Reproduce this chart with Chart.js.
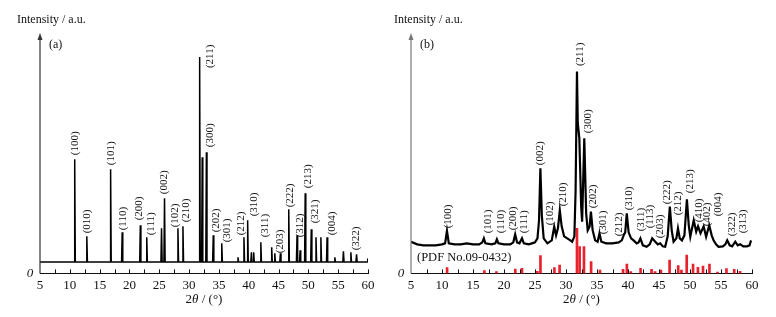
<!DOCTYPE html>
<html>
<head>
<meta charset="utf-8">
<script src="https://cdn.jsdelivr.net/npm/chart.js@4.4.1/dist/chart.umd.min.js"></script>
<style>
  html, body { margin: 0; padding: 0; background: #fff; }
  #wrap { position: relative; width: 776px; height: 317px; }
  canvas { position: absolute; top: 0; }
</style>
</head>
<body>
<div id="wrap">
  <canvas id="xrd-a" width="390" height="317" style="left:0"></canvas>
  <canvas id="xrd-b" width="386" height="317" style="left:390px"></canvas>
</div>
<script>
// 2theta axis ticks
const xTicks = [5, 10, 15, 20, 25, 30, 35, 40, 45, 50, 55, 60];

// (a) simulated pattern: peak positions (deg) and heights (a.u.)
const simBase = 11.5;
const simPeakPos = [10.82, 12.85, 16.84, 18.78, 21.82, 22.90, 25.38, 25.88, 28.13, 28.97,
  31.77, 32.20, 32.90, 34.05, 35.48, 38.20, 39.20, 39.82, 40.45, 40.83, 42.03, 43.85, 44.37,
  45.31, 46.71, 48.10, 48.62, 49.47, 50.49, 51.28, 52.10, 53.14, 54.44, 55.88, 57.13, 58.08, 59.95];
const simPeakInt = [114, 37, 104, 41, 48, 36, 45, 75, 45, 47,
  216, 116, 121, 38, 30, 16, 36, 53, 21, 21, 31, 26, 20,
  20, 64, 38, 23, 80, 44, 36, 36, 36, 16, 22, 21, 19, 15];

const obsX = [5.0, 6.0, 7.0, 8.0, 9.0, 10.0, 10.5, 10.8, 11.1, 12.0, 13.0, 14.0, 15.0, 16.0, 16.5,
  16.75, 17.0, 18.0, 18.6, 18.85, 19.1, 20.0, 21.0, 21.5, 21.8, 22.1, 22.5, 22.9, 23.2, 24.0, 24.5,
  25.0, 25.4, 25.65, 25.87, 26.1, 26.4, 27.0, 27.7, 28.1, 28.4, 28.7, 29.0, 29.3, 29.7, 30.2, 30.7,
  31.0, 31.35, 31.55, 31.77, 31.9, 32.15, 32.45, 32.6, 32.95, 33.25, 33.5, 33.8, 34.02, 34.3, 34.7,
  35.1, 35.4, 35.7, 36.5, 37.5, 38.5, 39.0, 39.3, 39.55, 39.8, 40.1, 40.5, 40.9, 41.4, 41.7, 42.0,
  42.4, 43.0, 43.5, 43.9, 44.4, 44.8, 45.2, 45.6, 46.0, 46.4, 46.75, 47.05, 47.35, 47.8, 48.06, 48.35,
  48.7, 49.1, 49.5, 49.8, 50.05, 50.6, 51.0, 51.3, 51.7, 52.2, 52.6, 53.1, 53.5, 53.8, 54.2, 54.6,
  55.3, 55.7, 56.0, 56.4, 56.8, 57.3, 57.7, 58.1, 58.6, 59.2, 59.6, 59.85];
const obsY = [31.6, 29, 28, 28, 28, 29, 30, 42.6, 30, 29, 29, 30, 29, 29, 31,
  35, 30, 29, 30, 34, 30, 29, 29, 31, 39, 31, 30, 35, 30, 29, 30,
  31, 35, 53, 105, 58, 35, 30, 33, 46.6, 38, 45, 63, 47, 37, 35, 33,
  31.6, 37, 83, 201.6, 150, 135, 66.6, 51.6, 135, 60, 43, 46.6, 61.6, 43, 33,
  31.6, 40, 31.6, 30, 30, 31, 33, 38, 41, 60, 41, 35, 33, 30, 31, 35,
  28, 26.6, 29, 35, 31.6, 29, 30, 27, 26.6, 37, 66.6, 43, 31.6, 35, 45, 35,
  33, 38, 74, 48, 36.6, 53, 41.6, 47, 40, 47, 36.6, 48, 38, 33, 29, 26.6,
  27, 29, 33, 28, 27, 31.6, 28, 29, 27, 27, 28, 33];

// (b) reference sticks, PDF No.09-0432
const pdfPos = [10.82, 16.84, 18.78, 21.82, 22.90, 25.38, 25.88, 28.13, 28.97, 31.77, 32.20, 32.90,
  34.05, 35.48, 39.20, 39.82, 40.45, 42.03, 43.80, 44.37, 45.31, 46.71, 48.10, 48.62, 49.47, 50.49,
  51.28, 52.10, 53.14, 54.44, 55.88, 57.13, 58.08];
const pdfInt = [5.7, 2.7, 1.7, 4.3, 5, 2, 17.7, 5.7, 8.3, 45, 26.7, 26.7,
  11.7, 3.3, 4, 9.3, 1.7, 5, 4, 1.7, 3.3, 13.3, 7.7, 3.3, 18.3, 9.3,
  6, 7.3, 9.3, 1.3, 4.7, 4, 2];

// hkl annotations: [text, 2theta, intensity where the text starts]
const hklA = [['(100)', 10.83, 118], ['(010)', 12.9, 40], ['(101)', 16.87, 108], ['(110)', 18.9, 43],
  ['(200)', 21.7, 53], ['(111)', 23.6, 38], ['(002)', 25.8, 79], ['(102)', 27.6, 46], ['(210)', 29.55, 51],
  ['(211)', 33.55, 205], ['(300)', 33.55, 126], ['(202)', 34.46, 41], ['(301)', 36.36, 31], ['(212)', 38.77, 38],
  ['(310)', 40.83, 57], ['(311)', 42.67, 36], ['(203)', 45.19, 20], ['(222)', 46.87, 66], ['(312)', 48.66, 36],
  ['(213)', 49.93, 85], ['(321)', 51.2, 50], ['(004)', 54.0, 38], ['(322)', 58.0, 23]];
const hklB = [['(100)', 10.97, 45], ['(101)', 17.5, 40], ['(110)', 19.5, 40], ['(200)', 21.4, 43],
  ['(111)', 23.3, 40], ['(002)', 25.85, 108], ['(102)', 27.5, 48], ['(210)', 29.5, 67], ['(211)', 32.3, 207],
  ['(300)', 33.5, 140], ['(202)', 34.45, 65], ['(301)', 35.97, 39], ['(212)', 38.6, 37], ['(310)', 40.2, 63],
  ['(311)', 42.1, 42], ['(113)', 43.55, 45], ['(203)', 45.2, 35], ['(222)', 46.35, 69], ['(212)', 48.16, 58],
  ['(213)', 50.05, 80], ['(410)', 51.4, 51], ['(402)', 52.84, 47], ['(004)', 54.5, 57], ['(322)', 56.77, 37],
  ['(313)', 58.55, 40]];

const SERIF = '"Liberation Serif", "DejaVu Serif", serif';

// spike profile for the simulated pattern, built from the peak lists
const simData = [{x: 5, y: simBase}];
simPeakPos.forEach((p, i) => {
  simData.push({x: p - 0.1, y: simBase}, {x: p, y: simPeakInt[i]}, {x: p + 0.1, y: simBase});
});
simData.push({x: 60, y: simBase});

const obsData = obsX.map((x, i) => ({x: x, y: obsY[i]}));
const pdfData = pdfPos.map((x, i) => ({x: x, y: pdfInt[i]}));

function decor(o) {
  return {
    id: 'decor',
    afterDraw(chart) {
      const ctx = chart.ctx;
      const xs = chart.scales.x, ys = chart.scales.y;
      const x0 = xs.getPixelForValue(5);
      const yb = ys.getPixelForValue(0);
      ctx.save();
      // y axis with arrow
      ctx.strokeStyle = o.axisColor;
      ctx.fillStyle = o.axisColor;
      ctx.lineWidth = 1.2;
      ctx.beginPath();
      ctx.moveTo(x0, yb);
      ctx.lineTo(x0, chart.chartArea.top + 4);
      ctx.stroke();
      ctx.beginPath();
      ctx.moveTo(x0, chart.chartArea.top);
      ctx.lineTo(x0 - 2.5, chart.chartArea.top + 7);
      ctx.lineTo(x0 + 2.5, chart.chartArea.top + 7);
      ctx.closePath();
      ctx.fill();
      // inward ticks every 2.5 deg
      ctx.strokeStyle = '#111';
      ctx.lineWidth = 1;
      for (let v = 7.5; v <= 60; v += 2.5) {
        const px = Math.round(xs.getPixelForValue(v)) + 0.5;
        ctx.beginPath();
        ctx.moveTo(px, yb);
        ctx.lineTo(px, yb - 4);
        ctx.stroke();
      }
      // hkl labels
      ctx.fillStyle = '#111';
      ctx.font = '11px ' + SERIF;
      ctx.textAlign = 'left';
      ctx.textBaseline = 'middle';
      o.hkl.forEach(h => {
        ctx.save();
        ctx.translate(xs.getPixelForValue(h[1]), ys.getPixelForValue(h[2]));
        ctx.rotate(-Math.PI / 2);
        ctx.fillText(h[0], 0, 0);
        ctx.restore();
      });
      // zero mark
      ctx.font = 'italic 13px ' + SERIF;
      ctx.textAlign = 'center';
      ctx.fillText('0', x0 - 10, yb);
      // panel tag and y title
      ctx.font = '12px ' + SERIF;
      ctx.textAlign = 'left';
      ctx.fillText(o.tag, x0 + 9, 45);
      ctx.fillText('Intensity / a.u.', o.yTitleX, 20);
      if (o.note) {
        ctx.font = '12.5px ' + SERIF;
        ctx.fillText(o.note, x0 + 6, 258);
      }
      // x title: 2θ / (°)
      ctx.font = '13px ' + SERIF;
      const a = '2', c = ' / (°)';
      const wa = ctx.measureText(a).width, wc = ctx.measureText(c).width;
      ctx.font = 'italic 13px ' + SERIF;
      const wb = ctx.measureText('θ').width;
      let tx = (chart.chartArea.left + chart.chartArea.right) / 2 - (wa + wb + wc) / 2;
      const ty = 300;
      ctx.font = '13px ' + SERIF;
      ctx.fillText(a, tx, ty);
      ctx.font = 'italic 13px ' + SERIF;
      ctx.fillText('θ', tx + wa, ty);
      ctx.font = '13px ' + SERIF;
      ctx.fillText(c, tx + wa + wb, ty);
      ctx.restore();
    }
  };
}

function baseOptions(padLeft, padRight) {
  return {
    responsive: false,
    animation: false,
    devicePixelRatio: 1,
    layout: { padding: { left: padLeft, right: padRight, top: 33, bottom: 20 } },
    plugins: { legend: { display: false }, tooltip: { enabled: false } },
    scales: {
      x: {
        type: 'linear', min: 5, max: 60, offset: false,
        grid: { display: false, drawTicks: false },
        border: { display: true, color: '#111', width: 1 },
        afterBuildTicks: s => { s.ticks = xTicks.map(v => ({ value: v })); },
        ticks: { color: '#111', font: { family: SERIF, size: 13 }, padding: 4, maxRotation: 0 }
      },
      y: { type: 'linear', min: 0, max: 240, display: false }
    }
  };
}

new Chart(document.getElementById('xrd-a').getContext('2d'), {
  type: 'line',
  data: {
    datasets: [{
      data: simData,
      borderColor: '#000',
      borderWidth: 1.5,
      pointRadius: 0,
      tension: 0
    }]
  },
  options: baseOptions(40, 22),
  plugins: [decor({ axisColor: '#333', hkl: hklA, tag: '(a)', yTitleX: 17 })]
});

new Chart(document.getElementById('xrd-b').getContext('2d'), {
  type: 'line',
  data: {
    datasets: [{
      type: 'line',
      data: obsData,
      borderColor: '#000',
      borderWidth: 2.2,
      pointRadius: 0,
      tension: 0
    }, {
      type: 'bar',
      data: pdfData,
      backgroundColor: '#e8222c',
      barThickness: 2,
      grouped: false
    }]
  },
  options: baseOptions(21, 24),
  plugins: [decor({ axisColor: '#777', hkl: hklB, tag: '(b)', yTitleX: 4, note: '(PDF No.09-0432)' })]
});
</script>
</body>
</html>
